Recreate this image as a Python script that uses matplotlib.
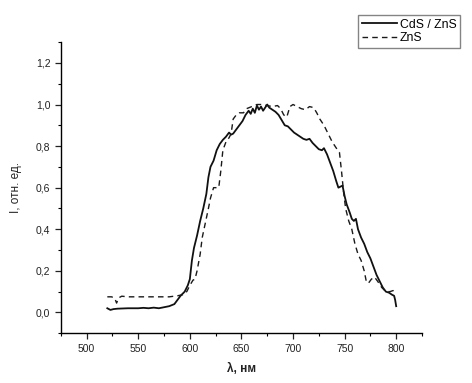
import matplotlib
matplotlib.use("Agg")
from matplotlib import pyplot as plt
from matplotlib.ticker import MultipleLocator, FuncFormatter

plt.rcParams["font.family"] = ["Liberation Sans", "DejaVu Sans"]

# CdS / ZnS (solid)
cds_wl = [520, 523, 526, 530, 540, 550, 555, 560, 565, 570, 575, 580, 585, 588,
          591, 595, 598, 600, 602, 604, 607, 610, 613, 616, 618, 620, 623, 626,
          629, 632, 635, 638, 640, 642, 645, 648, 651, 654, 657, 659, 661, 663,
          665, 667, 669, 671, 673, 675, 677, 680, 683, 686, 689, 692, 695, 698,
          701, 704, 707, 710, 713, 716, 719, 722, 725, 728, 730, 733, 736, 739,
          742, 744, 746, 748, 750, 752, 755, 757, 759, 761, 763, 766, 769, 772,
          775, 778, 781, 784, 787, 790, 793, 796, 798, 799, 800]
cds_i = [0.02, 0.012, 0.016, 0.018, 0.02, 0.02, 0.022, 0.02, 0.023, 0.02, 0.025,
         0.03, 0.04, 0.06, 0.08, 0.1, 0.13, 0.16, 0.25, 0.31, 0.37, 0.44, 0.5,
         0.57, 0.65, 0.7, 0.73, 0.78, 0.81, 0.83, 0.845, 0.865, 0.855, 0.86,
         0.88, 0.9, 0.92, 0.95, 0.97, 0.955, 0.98, 0.96, 0.995, 0.975, 0.99,
         0.97, 0.985, 1.0, 0.985, 0.975, 0.965, 0.95, 0.925, 0.9, 0.895, 0.88,
         0.865, 0.855, 0.845, 0.835, 0.83, 0.835, 0.815, 0.8, 0.785, 0.78, 0.79,
         0.76, 0.72, 0.68, 0.63, 0.6, 0.605, 0.61, 0.56, 0.52, 0.48, 0.45, 0.44,
         0.45, 0.4, 0.36, 0.33, 0.29, 0.26, 0.22, 0.18, 0.15, 0.12, 0.1, 0.095,
         0.085, 0.08, 0.06, 0.03]

# ZnS (dashed)
zns_wl = [520, 524, 527, 529, 531, 534, 540, 550, 560, 570, 580, 588, 593, 597,
          600, 603, 605, 607, 610, 612, 615, 618, 620, 623, 626, 628, 630, 632,
          635, 638, 640, 642, 645, 648, 652, 655, 660, 665, 670, 675, 680, 685,
          688, 691, 694, 697, 700, 704, 708, 712, 716, 720, 723, 726, 730, 734,
          738, 742, 745, 747, 749, 751, 754, 757, 760, 763, 766, 769, 771, 773,
          776, 779, 782, 786, 790, 794, 797, 800]
zns_i = [0.075, 0.075, 0.07, 0.045, 0.07, 0.078, 0.075, 0.075, 0.075, 0.075,
         0.075, 0.08, 0.085, 0.1, 0.13, 0.155, 0.16, 0.2, 0.28, 0.36, 0.43, 0.5,
         0.55, 0.6, 0.6, 0.6, 0.68, 0.78, 0.82, 0.84, 0.86, 0.93, 0.95, 0.96,
         0.96, 0.98, 0.99, 1.0, 1.0, 0.995, 0.99, 0.995, 0.98, 0.95, 0.94, 0.99,
         1.0, 0.99, 0.98, 0.975, 0.99, 0.985, 0.96, 0.93, 0.9, 0.86, 0.82, 0.79,
         0.77, 0.68, 0.58, 0.5, 0.44, 0.4, 0.33, 0.28, 0.25, 0.2, 0.15, 0.14,
         0.16, 0.17, 0.15, 0.12, 0.1, 0.1, 0.105, 0.1]

fig = plt.figure(figsize=(4.72, 3.83), dpi=100)
ax = fig.add_axes([0.129, 0.130, 0.765, 0.760])

ax.plot(cds_wl, cds_i, color="#111111", lw=1.3, label="CdS / ZnS")
ax.plot(zns_wl, zns_i, color="#1a1a1a", lw=1.0, dashes=(4, 3), label="ZnS")

ax.set_xlim(475, 825)
ax.set_ylim(-0.1, 1.3)
ax.xaxis.set_major_locator(MultipleLocator(50))
ax.xaxis.set_minor_locator(MultipleLocator(25))
ax.yaxis.set_major_locator(MultipleLocator(0.2))
ax.yaxis.set_minor_locator(MultipleLocator(0.1))
ax.yaxis.set_major_formatter(FuncFormatter(lambda v, p: f"{v:.1f}".replace(".", ",").replace("-0,0", "0,0")))

for s in ["top", "right"]:
    ax.spines[s].set_visible(False)
for s in ["left", "bottom"]:
    ax.spines[s].set_linewidth(1.0)

ax.tick_params(which="major", direction="out", length=4, width=0.9, labelsize=7.5, colors="#222222")
ax.tick_params(which="minor", direction="out", length=2.5, width=0.8)

ax.set_xlabel("λ, нм", fontsize=8.5, fontweight="bold", color="#222222", labelpad=7)
ax.set_ylabel("I, отн. ед.", fontsize=8.5, color="#222222", labelpad=10)

fig.legend(loc="upper left", bbox_to_anchor=(0.746, 0.977), fontsize=8.8,
           frameon=True, fancybox=False, edgecolor="#666666", borderpad=0.3,
           handlelength=2.9, handletextpad=0.2, labelspacing=0.15)

fig.savefig("out.png", dpi=100, facecolor="white")
